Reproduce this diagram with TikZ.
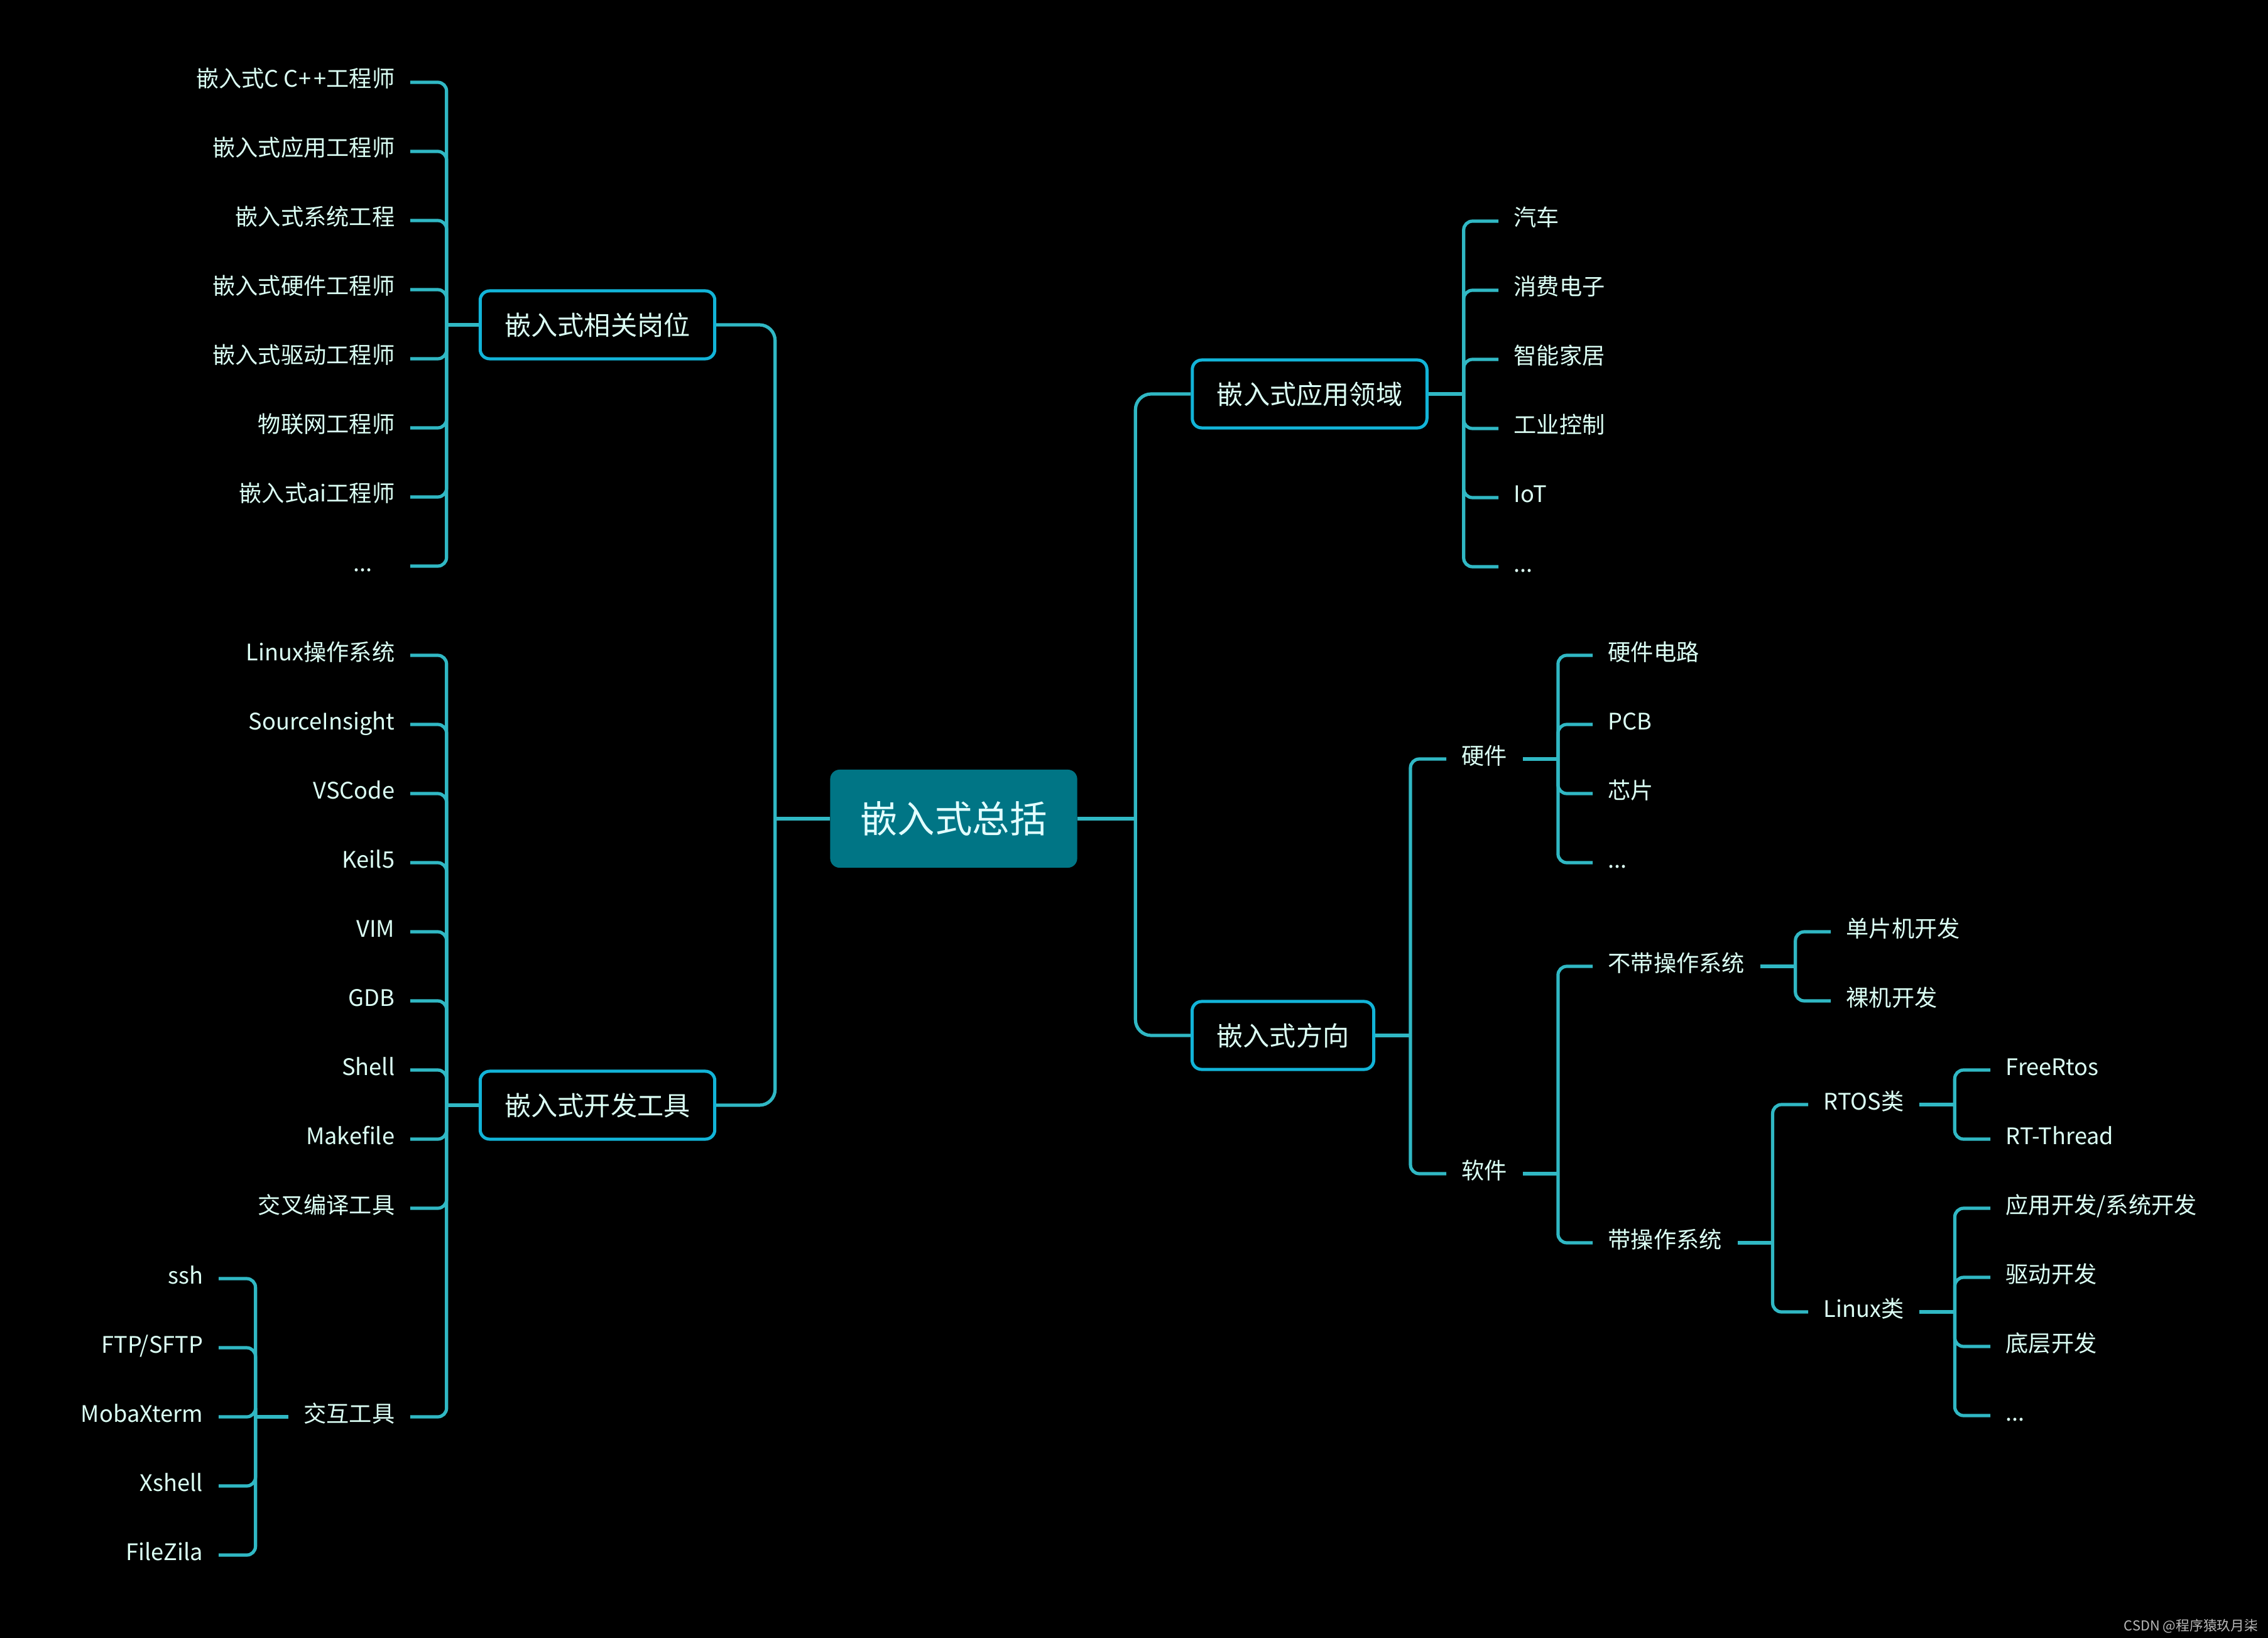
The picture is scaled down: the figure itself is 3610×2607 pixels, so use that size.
\documentclass[tikz,border=0pt]{standalone}
\usepackage{fontspec}
\newfontfamily\cjk{Noto Sans CJK SC}
\definecolor{lineC}{HTML}{30B8C4}
\definecolor{boxC}{HTML}{12B4D8}
\definecolor{fillC}{HTML}{007585}
\definecolor{txtC}{HTML}{DCFFF5}
\definecolor{ctrTxt}{HTML}{E2FFFF}
\definecolor{wmC}{HTML}{B8B8B8}
\begin{document}
\begin{tikzpicture}[x=0.01cm,y=-0.01cm,
  conn/.style={draw=lineC, line width=0.052cm, rounded corners=0.14cm},
  trunk/.style={conn, rounded corners=0.25cm},
  boxnode/.style={draw=boxC, line width=0.05cm, rounded corners=0.15cm, inner xsep=0.39cm, inner ysep=0pt,
    minimum height=1.08cm, text=txtC, font=\cjk\fontsize{12pt}{14pt}\selectfont,
    text height=10.2pt, text depth=1.08pt},
  centernode/.style={fill=fillC, rounded corners=0.15cm, inner xsep=0.48cm, inner ysep=0pt,
    minimum height=1.56cm, text=ctrTxt, font=\cjk\fontsize{16.9pt}{19pt}\selectfont,
    text height=14.4pt, text depth=1.56pt},
  leaf/.style={text=txtC, font=\cjk\fontsize{10.3pt}{12pt}\selectfont, inner xsep=0.24cm, inner ysep=0pt,
    text height=8pt, text depth=3.45pt},
  leafL/.style={leaf, anchor=east},
  leafR/.style={leaf, anchor=west}
]
\fill[black] (0,0) rectangle (3610,2607);
\useasboundingbox (0,0) rectangle (3610,2607);

% centre and main boxes
\node[centernode] (c0) at (1518,1303) {嵌入式总括};
\node[boxnode] (b1) at (951,517) {嵌入式相关岗位};
\node[boxnode] (b2) at (951,1759) {嵌入式开发工具};
\node[boxnode] (a1) at (2084.5,627) {嵌入式应用领域};
\node[boxnode] (a2) at (2042,1648) {嵌入式方向};

% left: jobs
\node[leafL] (j1) at (653,131) {嵌入式C C+\kern0.12em+工程师};
\node[leafL] (j2) at (653,241) {嵌入式应用工程师};
\node[leafL] (j3) at (653,351) {嵌入式系统工程};
\node[leafL] (j4) at (653,461) {嵌入式硬件工程师};
\node[leafL] (j5) at (653,571) {嵌入式驱动工程师};
\node[leafL] (j6) at (653,681) {物联网工程师};
\node[leafL] (j7) at (653,791) {嵌入式ai工程师};
\node[leafL] (j8) at (653,901) {...\hspace*{0.36cm}};

% left: tools
\node[leafL] (t1) at (653,1043) {Linux操作系统};
\node[leafL] (t2) at (653,1153) {SourceInsight};
\node[leafL] (t3) at (653,1263) {VSCode};
\node[leafL] (t4) at (653,1373) {Keil5};
\node[leafL] (t5) at (653,1483) {VIM};
\node[leafL] (t6) at (653,1593) {GDB};
\node[leafL] (t7) at (653,1703) {Shell};
\node[leafL] (t8) at (653,1813) {Makefile};
\node[leafL] (t9) at (653,1923) {交叉编译工具};
\node[leafL] (t10) at (653,2255) {交互工具};

\node[leafL] (k1) at (348,2035) {ssh};
\node[leafL] (k2) at (348,2145) {FTP/SFTP};
\node[leafL] (k3) at (348,2255) {MobaXterm};
\node[leafL] (k4) at (348,2365) {Xshell};
\node[leafL] (k5) at (348,2475) {FileZila};

% right: application fields
\node[leafR] (f1) at (2385,352) {汽车};
\node[leafR] (f2) at (2385,462) {消费电子};
\node[leafR] (f3) at (2385,572) {智能家居};
\node[leafR] (f4) at (2385,682) {工业控制};
\node[leafR] (f5) at (2385,792) {IoT};
\node[leafR] (f6) at (2385,902) {...};

% right: directions
\node[leafR] (hw) at (2302,1208) {硬件};
\node[leafR] (sw) at (2302,1868) {软件};

\node[leafR] (h1) at (2535,1043) {硬件电路};
\node[leafR] (h2) at (2535,1153) {PCB};
\node[leafR] (h3) at (2535,1263) {芯片};
\node[leafR] (h4) at (2535,1373) {...};

\node[leafR] (nos) at (2535,1538) {不带操作系统};
\node[leafR] (wos) at (2535,1978) {带操作系统};

\node[leafR] (n1) at (2914,1483) {单片机开发};
\node[leafR] (n2) at (2914,1593) {裸机开发};

\node[leafR] (rt) at (2878,1758) {RTOS类};
\node[leafR] (lx) at (2878,2088) {Linux类};

\node[leafR] (r1) at (3168,1703) {FreeRtos};
\node[leafR] (r2) at (3168,1813) {RT-Thread};

\node[leafR] (l1) at (3168,1923) {应用开发/系统开发};
\node[leafR] (l2) at (3168,2033) {驱动开发};
\node[leafR] (l3) at (3168,2143) {底层开发};
\node[leafR] (l4) at (3168,2253) {...};

% watermark
\node[anchor=east, inner sep=0pt, text=wmC, font=\cjk\fontsize{6.2pt}{7pt}\selectfont] (wm) at (3595,2588) {CSDN @程序猿玖月柒};

% ---- connectors ----
\draw[conn] (c0.west) -- ++(-87,0) coordinate (Lt);
\draw[trunk] (Lt) |- (b1.east);
\draw[trunk] (Lt) |- (b2.east);
\draw[conn] (c0.east) -- ++(92,0) coordinate (Rt);
\draw[trunk] (Rt) |- (a1.west);
\draw[trunk] (Rt) |- (a2.west);

\draw[conn] (b1.west) -- ++(-51,0) coordinate (b1bus);
\foreach \i in {1,...,8} \draw[conn] (b1bus) |- (j\i.east);

\draw[conn] (b2.west) -- ++(-51,0) coordinate (b2bus);
\foreach \i in {1,...,10} \draw[conn] (b2bus) |- (t\i.east);

\draw[conn] (t10.west) -- ++(-52,0) coordinate (t10bus);
\foreach \i in {1,...,5} \draw[conn] (t10bus) |- (k\i.east);

\draw[conn] (a1.east) -- ++(56,0) coordinate (a1bus);
\foreach \i in {1,...,6} \draw[conn] (a1bus) |- (f\i.west);

\draw[conn] (a2.east) -- ++(56,0) coordinate (a2bus);
\draw[conn] (a2bus) |- (hw.west);
\draw[conn] (a2bus) |- (sw.west);

\draw[conn] (hw.east) -- ++(56,0) coordinate (hwbus);
\foreach \i in {1,...,4} \draw[conn] (hwbus) |- (h\i.west);

\draw[conn] (sw.east) -- ++(56,0) coordinate (swbus);
\draw[conn] (swbus) |- (nos.west);
\draw[conn] (swbus) |- (wos.west);

\draw[conn] (nos.east) -- ++(56,0) coordinate (nosbus);
\draw[conn] (nosbus) |- (n1.west);
\draw[conn] (nosbus) |- (n2.west);

\draw[conn] (wos.east) -- ++(56,0) coordinate (wosbus);
\draw[conn] (wosbus) |- (rt.west);
\draw[conn] (wosbus) |- (lx.west);

\draw[conn] (rt.east) -- ++(56,0) coordinate (rtbus);
\draw[conn] (rtbus) |- (r1.west);
\draw[conn] (rtbus) |- (r2.west);

\draw[conn] (lx.east) -- ++(56,0) coordinate (lxbus);
\foreach \i in {1,...,4} \draw[conn] (lxbus) |- (l\i.west);
\end{tikzpicture}
\end{document}
